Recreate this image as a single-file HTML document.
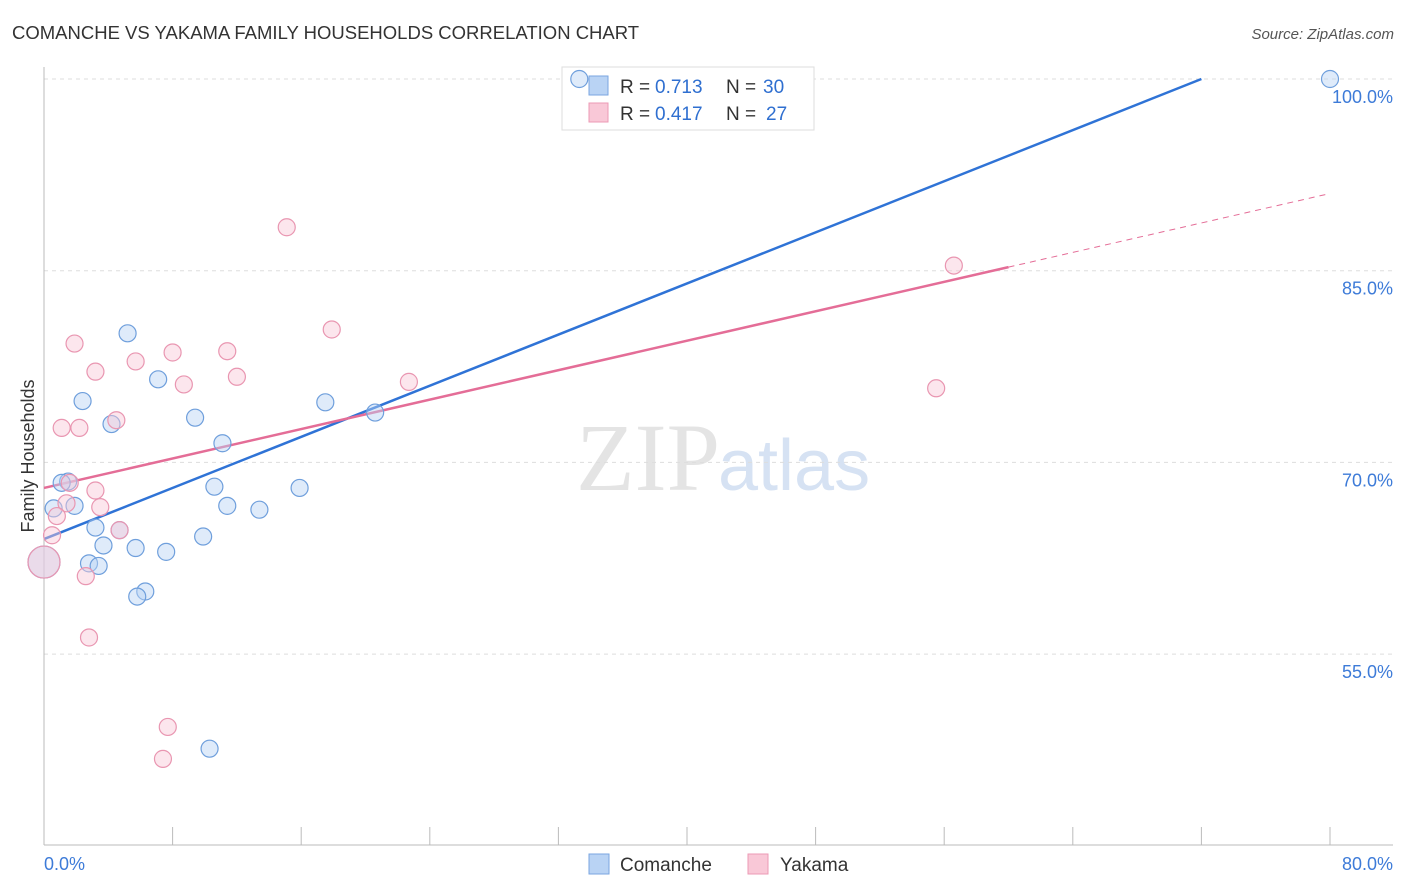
<!DOCTYPE html>
<html><head><meta charset="utf-8"><style>
body{margin:0;background:#fff;font-family:"Liberation Sans",sans-serif;}
svg{display:block}
</style></head><body>
<svg width="1406" height="892" xmlns="http://www.w3.org/2000/svg">
<text x="12" y="39" font-size="18.5" fill="#333">COMANCHE VS YAKAMA FAMILY HOUSEHOLDS CORRELATION CHART</text>
<text x="1394" y="39" font-size="15" fill="#555" font-style="italic" text-anchor="end">Source: ZipAtlas.com</text>
<text x="720" y="490" font-size="96" fill="#e4e4e4" text-anchor="end" font-family="Liberation Serif,serif">ZIP</text>
<text x="718" y="490" font-size="72" fill="#d6e2f3">atlas</text>
<g id="grid"></g><g id="axes"></g><g id="lines"></g>
<text transform="translate(34,456) rotate(-90)" font-size="18" fill="#333" text-anchor="middle">Family Households</text>
<g>
<rect x="562" y="67" width="252" height="63" fill="#fff" stroke="#ddd"/>
<rect x="589" y="76" width="19" height="19" fill="#b9d3f4" stroke="#7aa6e0"/>
<rect x="589" y="103" width="19" height="19" fill="#f9c8d7" stroke="#ec9ab4"/>
<text x="620" y="93" font-size="19" fill="#333">R =</text>
<text x="655" y="93" font-size="19" fill="#2f6fd0">0.713</text>
<text x="726" y="93" font-size="19" fill="#333">N =</text>
<text x="763" y="93" font-size="19" fill="#2f6fd0">30</text>
<text x="620" y="120" font-size="19" fill="#333">R =</text>
<text x="655" y="120" font-size="19" fill="#2f6fd0">0.417</text>
<text x="726" y="120" font-size="19" fill="#333">N =</text>
<text x="766" y="120" font-size="19" fill="#2f6fd0">27</text>
</g>
<g id="pts"></g>
<g>
<rect x="589" y="854" width="20" height="20" fill="#b9d3f4" stroke="#7aa6e0"/>
<text x="620" y="871" font-size="19" fill="#333">Comanche</text>
<rect x="748" y="854" width="20" height="20" fill="#f9c8d7" stroke="#ec9ab4"/>
<text x="780" y="871" font-size="19" fill="#333">Yakama</text>
</g>
</svg>
<script>
const yTicks=[100,85,70,55];
const yTickLabels=["100.0%","85.0%","70.0%","55.0%"];
const comancheX=[33.3,80,5.2,7.1,2.4,9.4,4.2,11.1,17.5,20.6,1.5,1.1,10.6,15.9,1.9,11.4,13.4,0.6,3.2,4.7,9.9,3.7,5.7,7.6,0,2.8,3.4,6.3,5.8,10.3];
const comancheY=[100,100,80.1,76.5,74.8,73.5,73.0,71.5,74.7,73.9,68.5,68.4,68.1,68.0,66.6,66.6,66.3,66.4,64.9,64.7,64.2,63.5,63.3,63.0,62.2,62.1,61.9,59.9,59.5,47.6];
const yakamaX=[15.1,56.6,17.9,1.9,8.0,11.4,5.7,3.2,12.0,8.7,22.7,55.5,4.5,1.1,2.2,3.2,1.4,3.5,0.8,0.5,4.7,0,2.6,2.8,7.7,7.4,1.6];
const yakamaY=[88.4,85.4,80.4,79.3,78.6,78.7,77.9,77.1,76.7,76.1,76.3,75.8,73.3,72.7,72.7,67.8,66.8,66.5,65.8,64.3,64.7,62.2,61.1,56.3,49.3,46.8,68.4];
const comancheTrend=[64.0,0.5];
const yakamaTrend=[68.0,0.288];
const X=v=>44+v*1286/80, Y=v=>79+(100-v)*191.7/15;
const NS="http://www.w3.org/2000/svg";
function mk(p,t,a){const e=document.createElementNS(NS,t);for(const k in a)e.setAttribute(k,a[k]);document.getElementById(p).appendChild(e);return e;}
yTicks.forEach((t,i)=>{
 const l=mk('grid','line',{x1:44,x2:1393,y1:Y(t),y2:Y(t),stroke:'#ddd','stroke-dasharray':'4,4'});
 
 
 const tx=mk('grid','text',{x:1393,y:Y(t)+24,'font-size':18,fill:'#3d7bd8','text-anchor':'end'});
 tx.textContent=yTickLabels[i];
 
 
});
const ya=mk('axes','line',{x1:44,x2:44,y1:67,y2:845,stroke:'#bbb'});


const xa=mk('axes','line',{x1:44,x2:1393,y1:845,y2:845,stroke:'#bbb'});


for(let i=0;i<=10;i++){const t=mk('axes','line',{x1:X(i*8),x2:X(i*8),y1:827,y2:845,stroke:'#bbb'});
 
 }
[["0.0%",44,'start'],["80.0%",1393,'end']].forEach(a=>{const t=mk('axes','text',{x:a[1],y:870,'font-size':18,fill:'#3d7bd8','text-anchor':a[2]});t.textContent=a[0];
 
 });
const b=comancheTrend, xe=(100-b[0])/b[1];
const bl=mk('lines','line',{x1:X(0),y1:Y(b[0]),x2:X(xe),y2:Y(100),stroke:'#2f73d6','stroke-width':2.5});


const p=yakamaTrend;
const pl=mk('lines','line',{x1:X(0),y1:Y(p[0]),x2:X(60),y2:Y(p[0]+60*p[1]),stroke:'#e46d97','stroke-width':2.5});


const pd=mk('lines','line',{x1:X(60),y1:Y(p[0]+60*p[1]),x2:X(80),y2:Y(p[0]+80*p[1]),stroke:'#e46d97','stroke-width':1,'stroke-dasharray':'6,5'});


function pts(xs,ys,fill,stroke,name){xs.forEach((x,i)=>{const r=(x===0)?16:8.5;
 const c=mk('pts','circle',{cx:X(x),cy:Y(ys[i]),r:r,fill:fill,'fill-opacity':0.45,stroke:stroke,'stroke-width':1.2});
 
 });}
pts(comancheX,comancheY,'#b9d3f4','#6f9fdc','comanche-point');
pts(yakamaX,yakamaY,'#f9c8d7','#e996b1','yakama-point');
</script>
</body></html>
